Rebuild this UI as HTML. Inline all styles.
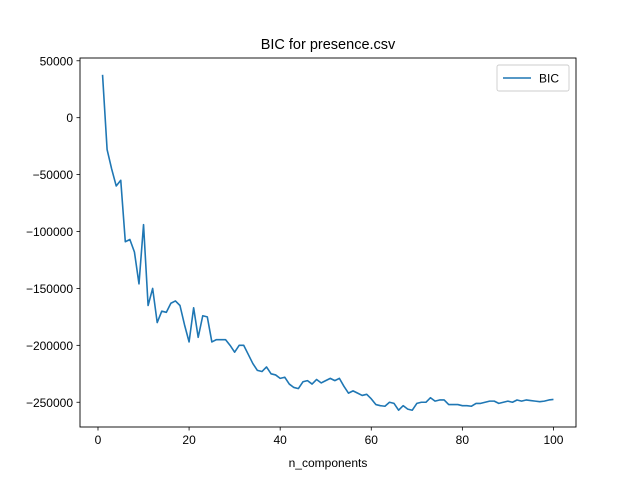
<!DOCTYPE html>
<html><head><meta charset="utf-8"><style>
body{margin:0;background:#fff}
svg text{font-family:"Liberation Sans","DejaVu Sans",sans-serif;fill:#000}
</style></head><body>
<svg id="c" width="640" height="480" xmlns="http://www.w3.org/2000/svg">
<rect width="640" height="480" fill="#fff"/>
<text x="328" y="49" font-size="14.5" text-anchor="middle">BIC for presence.csv</text>
<text x="328" y="467" font-size="12" text-anchor="middle">n_components</text>
<g id="ticks"></g>
<polyline id="line" fill="none" stroke="#1f77b4" stroke-width="1.6" stroke-linejoin="round"/>
<rect x="80" y="58" width="496" height="369" fill="none" stroke="#000" stroke-width="0.9"/>
<g>
<rect x="497" y="65" width="72" height="26" rx="2" fill="#fff" stroke="#ccc" stroke-width="0.9"/>
<line x1="503" y1="78" x2="531" y2="78" stroke="#1f77b4" stroke-width="1.6"/>
<text x="539" y="82.5" font-size="12">BIC</text>
</g>
</svg>
<script>
const nComponents=[];for(let i=1;i<=100;i++)nComponents.push(i);
const bicValues=[37700,-28000,-45000,-60000,-55000,-109000,-107000,-118000,-146000,-94000,
-165000,-150000,-180000,-170000,-171000,-163000,-161000,-165000,-182000,-197000,
-167000,-193000,-174000,-175000,-197000,-195000,-195000,-195000,-200000,-206000,
-200000,-200000,-208000,-216000,-222000,-223000,-219000,-225000,-226000,-229000,
-228000,-234000,-237000,-238000,-232000,-231000,-234000,-230000,-233000,-231000,
-229000,-231000,-229000,-236000,-242000,-240000,-242000,-244000,-243000,-247000,
-252000,-253000,-253500,-250000,-251000,-257000,-253000,-256000,-257000,-251000,
-250000,-250000,-246000,-249000,-248000,-248000,-252000,-252000,-252000,-253000,
-253000,-253500,-251000,-251000,-250000,-249000,-249000,-251000,-250000,-249000,
-250000,-248000,-249000,-248000,-248500,-249000,-249500,-249000,-248000,-247500];
const xTicks=[0,20,40,60,80,100];
const yTicks=[50000,0,-50000,-100000,-150000,-200000,-250000];
const L=80,R=576,T=58,B=427;
const xmin=-3.95,xmax=104.95;
const dmax=Math.max(...bicValues),dmin=Math.min(...bicValues),pad=(dmax-dmin)*0.05;
const ymax=dmax+pad,ymin=dmin-pad;
const sx=v=>L+(v-xmin)/(xmax-xmin)*(R-L);
const sy=v=>B-(v-ymin)/(ymax-ymin)*(B-T);
const NS="http://www.w3.org/2000/svg";
const g=document.getElementById('ticks');
function mk(t,a){const e=document.createElementNS(NS,t);for(const k in a)e.setAttribute(k,a[k]);g.appendChild(e);return e;}
xTicks.forEach(v=>{const x=sx(v);
const l=mk('line',{x1:x,x2:x,y1:B,y2:B+3.5,stroke:'#000','stroke-width':0.8});


const t=mk('text',{x:x,y:B+17,'font-size':12,'text-anchor':'middle'});t.textContent=v;

});
yTicks.forEach(v=>{const y=sy(v);
const l=mk('line',{x1:L-3.5,x2:L,y1:y,y2:y,stroke:'#000','stroke-width':0.8});


const t=mk('text',{x:L-7,y:y+4.5,'font-size':12,'text-anchor':'end'});t.textContent=v===0?'0':(v<0?'\u2212'+(-v):v);

});
document.getElementById('line').setAttribute('points',nComponents.map((n,i)=>sx(n).toFixed(2)+','+sy(bicValues[i]).toFixed(2)).join(' '));
</script>
</body></html>
